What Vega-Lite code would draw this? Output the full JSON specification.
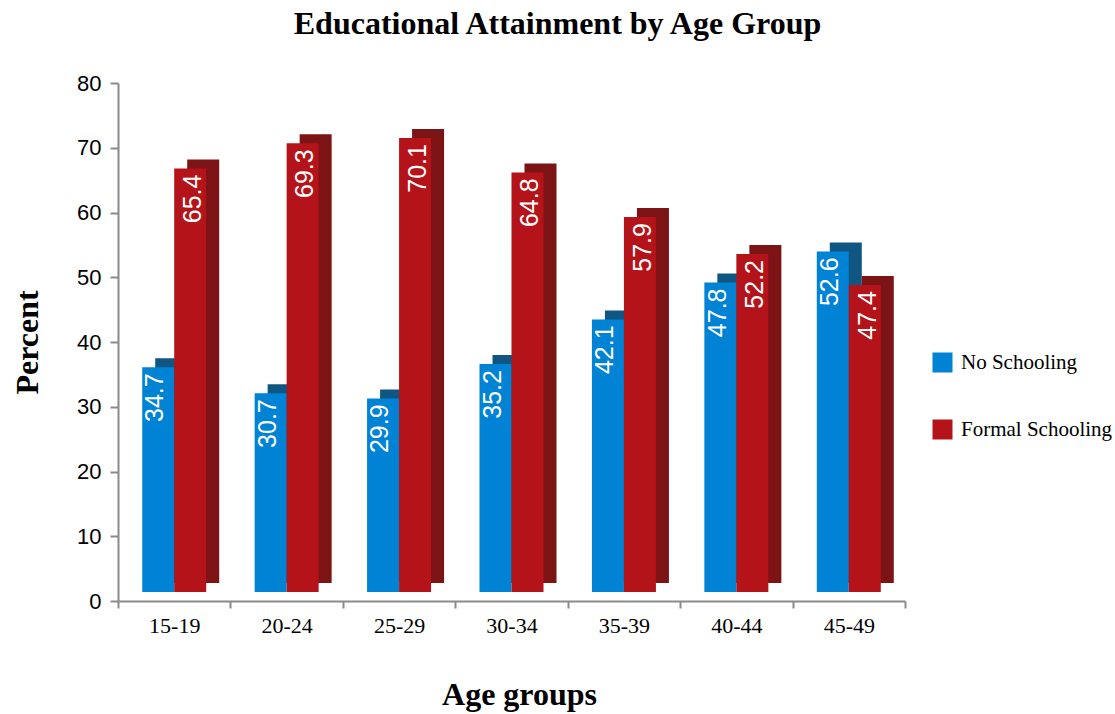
{
  "$schema": "https://vega.github.io/schema/vega-lite/v6.json",
  "autosize": {"type": "none"},
  "padding": {"left": 118, "top": 83, "right": 210, "bottom": 113},
  "width": 787,
  "height": 518,
  "background": "white",
  "config": {"view": {"stroke": null}},
  "title": {
    "text": "Educational Attainment by Age Group",
    "font": "Liberation Serif",
    "fontSize": 32,
    "fontWeight": "bold",
    "color": "black",
    "anchor": "middle",
    "dx": 46,
    "offset": 31
  },
  "data": {
    "values": [
      {"age": "15-19", "series": "No Schooling", "value": 34.7},
      {"age": "15-19", "series": "Formal Schooling", "value": 65.4},
      {"age": "20-24", "series": "No Schooling", "value": 30.7},
      {"age": "20-24", "series": "Formal Schooling", "value": 69.3},
      {"age": "25-29", "series": "No Schooling", "value": 29.9},
      {"age": "25-29", "series": "Formal Schooling", "value": 70.1},
      {"age": "30-34", "series": "No Schooling", "value": 35.2},
      {"age": "30-34", "series": "Formal Schooling", "value": 64.8},
      {"age": "35-39", "series": "No Schooling", "value": 42.1},
      {"age": "35-39", "series": "Formal Schooling", "value": 57.9},
      {"age": "40-44", "series": "No Schooling", "value": 47.8},
      {"age": "40-44", "series": "Formal Schooling", "value": 52.2},
      {"age": "45-49", "series": "No Schooling", "value": 52.6},
      {"age": "45-49", "series": "Formal Schooling", "value": 47.4}
    ]
  },
  "encoding": {
    "x": {
      "field": "age",
      "type": "nominal",
      "sort": null,
      "scale": {"paddingInner": 0, "paddingOuter": 0},
      "axis": {
        "title": "Age groups",
        "titleFont": "Liberation Serif",
        "titleFontSize": 32,
        "titleFontWeight": "bold",
        "titleColor": "black",
        "titlePadding": 43,
        "titleX": 401,
        "labelAngle": 0,
        "labelFont": "Liberation Serif",
        "labelFontSize": 22,
        "labelColor": "black",
        "labelPadding": 7,
        "tickBand": "extent",
        "tickSize": 7,
        "tickWidth": 2,
        "tickColor": "#8a8a8a",
        "domainColor": "#8a8a8a",
        "domainWidth": 2,
        "grid": false
      }
    },
    "y": {
      "field": "value",
      "type": "quantitative",
      "scale": {"domain": [0, 80]},
      "axis": {
        "title": "Percent",
        "titleFont": "Liberation Serif",
        "titleFontSize": 32,
        "titleFontWeight": "bold",
        "titleColor": "black",
        "titlePadding": 32,
        "labelFont": "Liberation Sans",
        "labelFontSize": 22,
        "labelColor": "black",
        "labelPadding": 9,
        "values": [0, 10, 20, 30, 40, 50, 60, 70, 80],
        "tickSize": 8,
        "tickWidth": 2,
        "tickColor": "#8a8a8a",
        "domainColor": "#8a8a8a",
        "domainWidth": 2,
        "grid": false
      }
    }
  },
  "layer": [
    {
      "transform": [{"filter": "datum.series === 'No Schooling'"}],
      "mark": {"type": "bar", "width": 32, "color": "#0F5782", "xOffset": -3, "x2Offset": -3, "yOffset": -18, "y2Offset": -18},
      "encoding": {"y2": {"datum": 0}}
    },
    {
      "transform": [{"filter": "datum.series === 'No Schooling'"}],
      "mark": {"type": "bar", "width": 32, "xOffset": -16, "x2Offset": -16, "yOffset": -9, "y2Offset": -9},
      "encoding": {
        "y2": {"datum": 0},
        "color": {
          "field": "series",
          "type": "nominal",
          "scale": {"domain": ["No Schooling", "Formal Schooling"], "range": ["#0082D5", "#B41419"]},
          "legend": {
            "title": null,
            "orient": "none",
            "legendX": 814,
            "legendY": 269,
            "symbolType": "square",
            "symbolSize": 400,
            "symbolStrokeWidth": 0,
            "labelFont": "Liberation Serif",
            "labelFontSize": 21,
            "labelColor": "black",
            "labelOffset": 8,
            "rowPadding": 45
          }
        }
      }
    },
    {
      "transform": [{"filter": "datum.series === 'Formal Schooling'"}],
      "mark": {"type": "bar", "width": 32, "color": "#7C1315", "xOffset": 29, "x2Offset": 29, "yOffset": -18, "y2Offset": -18},
      "encoding": {"y2": {"datum": 0}}
    },
    {
      "transform": [{"filter": "datum.series === 'Formal Schooling'"}],
      "mark": {"type": "bar", "width": 32, "xOffset": 16, "x2Offset": 16, "yOffset": -9, "y2Offset": -9},
      "encoding": {
        "y2": {"datum": 0},
        "color": {"field": "series", "type": "nominal"}
      }
    },
    {
      "mark": {
        "type": "text",
        "angle": 270,
        "align": "right",
        "baseline": "middle",
        "yOffset": -3,
        "font": "Liberation Sans",
        "fontSize": 25,
        "color": "white"
      },
      "encoding": {
        "xOffset": {
          "field": "series",
          "type": "nominal",
          "sort": ["No Schooling", "Formal Schooling"],
          "scale": {"type": "point", "padding": 1.2567}
        },
        "text": {"field": "value", "type": "quantitative", "format": ".1f"}
      }
    }
  ]
}
